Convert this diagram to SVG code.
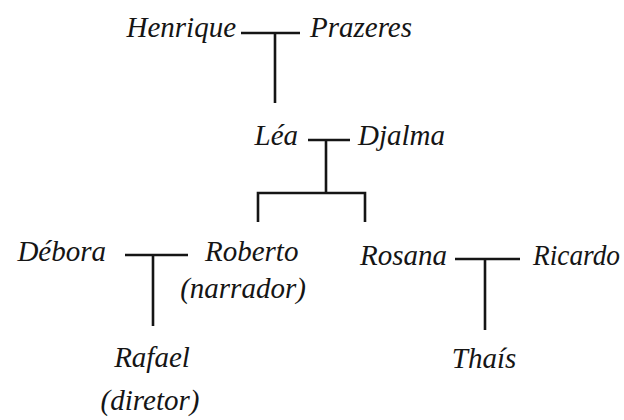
<svg xmlns="http://www.w3.org/2000/svg" width="624" height="420" viewBox="0 0 624 420">
<style>
text{font-family:"Liberation Serif","DejaVu Serif",serif;font-style:italic;font-size:29px;fill:#151515}
.e{text-anchor:end}.m{text-anchor:middle}
.l{stroke:#151515;stroke-width:2.6;fill:none;stroke-linecap:butt}
</style>
<rect width="624" height="420" fill="#fff"/>
<g id="connectors">
<path class="l" d="M241 33H300M275 33V103"/>
<path class="l" d="M308 140H350M326 140V193M258 222V193H365V222"/>
<path class="l" d="M125 255H188M153 255V326"/>
<path class="l" d="M455 259H520M485 259V330"/>
</g>
<g id="henrique"><text class="e" x="236" y="37">Henrique</text></g>
<g id="prazeres"><text x="310" y="37">Prazeres</text></g>
<g id="lea"><text class="e" x="298" y="145">Léa</text></g>
<g id="djalma"><text x="358" y="145">Djalma</text></g>
<g id="debora"><text class="e" x="106" y="261">Débora</text></g>
<g id="roberto"><text x="205" y="261">Roberto</text><text class="m" x="243" y="298">(narrador)</text></g>
<g id="rosana"><text class="e" x="447" y="265">Rosana</text></g>
<g id="ricardo"><text x="533" y="265" textLength="87" lengthAdjust="spacingAndGlyphs">Ricardo</text></g>
<g id="rafael"><text class="m" x="152" y="367">Rafael</text><text class="m" x="150" y="410">(diretor)</text></g>
<g id="thais"><text class="m" x="484" y="368">Thaís</text></g>
</svg>
